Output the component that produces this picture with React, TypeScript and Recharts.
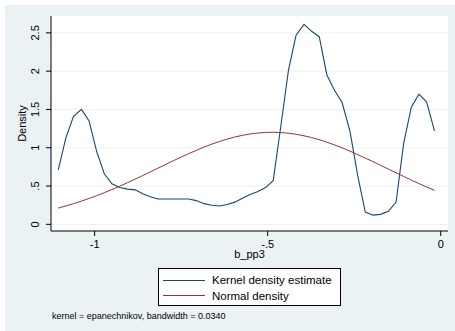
import { LineChart, Line, XAxis, YAxis, CartesianGrid } from "recharts";

const FONT = "'Liberation Sans', Arial, Helvetica, sans-serif";
const NAVY = "#1a476f";
const MAROON = "#90353b";
const BG = "#eaf2f3";

// b_pp3 grid where the density was evaluated
const xVals = [
  -1.105, -1.083, -1.061, -1.038, -1.016, -0.994, -0.972, -0.95, -0.927, -0.905,
  -0.883, -0.861, -0.839, -0.817, -0.794, -0.772, -0.75, -0.728, -0.706, -0.684,
  -0.661, -0.639, -0.617, -0.595, -0.573, -0.551, -0.528, -0.506, -0.484, -0.462,
  -0.44, -0.418, -0.395, -0.373, -0.351, -0.329, -0.307, -0.285, -0.262, -0.24,
  -0.218, -0.196, -0.174, -0.151, -0.129, -0.107, -0.085, -0.063, -0.041, -0.018,
];

const kernelVals = [
  0.71, 1.13, 1.41, 1.5, 1.35, 0.95, 0.66, 0.53, 0.48, 0.46,
  0.45, 0.4, 0.36, 0.33, 0.33, 0.33, 0.33, 0.33, 0.31, 0.27,
  0.25, 0.24, 0.26, 0.29, 0.34, 0.39, 0.43, 0.48, 0.57, 1.28,
  2.01, 2.47, 2.61, 2.52, 2.45, 1.95, 1.75, 1.59, 1.21, 0.64,
  0.16, 0.12, 0.13, 0.17, 0.29, 1.06, 1.53, 1.7, 1.6, 1.22,
];

const normalVals = [
  0.213, 0.24, 0.27, 0.303, 0.338, 0.374, 0.413, 0.455, 0.499, 0.544,
  0.59, 0.637, 0.685, 0.733, 0.783, 0.832, 0.878, 0.924, 0.966, 1.008,
  1.048, 1.082, 1.113, 1.14, 1.162, 1.18, 1.192, 1.2, 1.202, 1.198,
  1.19, 1.176, 1.156, 1.133, 1.105, 1.073, 1.037, 0.999, 0.955, 0.911,
  0.865, 0.819, 0.771, 0.721, 0.673, 0.625, 0.578, 0.532, 0.488, 0.443,
];

const xTicks = [-1, -0.5, 0];
const xTickLabels = ["-1", "-.5", "0"];
const yTicks = [0, 0.5, 1, 1.5, 2, 2.5];
const yTickLabels = ["0", ".5", "1", "1.5", "2", "2.5"];

const data = xVals.map((x, i) => ({
  x,
  kernel: kernelVals[i],
  normal: normalVals[i],
}));

const YTick = (props: any) => {
  const { x, y, payload } = props;
  const label = yTickLabels[yTicks.indexOf(payload.value)];
  return (
    <text
      x={x}
      y={y}
      transform={`rotate(-90, ${x}, ${y})`}
      textAnchor="middle"
      fontSize={11}
      fontFamily={FONT}
      fill="#000"
    >
      {label}
    </text>
  );
};

const XTick = (props: any) => {
  const { x, y, payload } = props;
  const label = xTickLabels[xTicks.indexOf(payload.value)];
  return (
    <text x={x} y={y} dy="0.71em" textAnchor="middle" fontSize={11} fontFamily={FONT} fill="#000">
      {label}
    </text>
  );
};

const XLabel = (props: any) => {
  const vb = props.viewBox;
  return (
    <text
      x={vb.x + vb.width / 2}
      y={vb.y + 26.5}
      textAnchor="middle"
      fontSize={11}
      fontFamily={FONT}
      fill="#000"
    >
      b_pp3
    </text>
  );
};

const YLabel = (props: any) => {
  const vb = props.viewBox;
  const cx = vb.x + 26;
  const cy = vb.y + vb.height / 2;
  return (
    <text
      x={cx}
      y={cy}
      transform={`rotate(-90, ${cx}, ${cy})`}
      textAnchor="middle"
      fontSize={11}
      fontFamily={FONT}
      fill="#000"
    >
      Density
    </text>
  );
};

export default function App() {
  return (
    <div
      style={{
        position: "absolute",
        left: 0,
        top: 0,
        width: 455,
        height: 331,
        background: "#fff",
        fontFamily: FONT,
      }}
    >
      <div style={{ position: "absolute", left: 5, top: 5, width: 450, height: 326, background: BG }} />
      <div style={{ position: "absolute", left: 0, top: 0 }}>
        <LineChart width={455} height={331} data={data} margin={{ top: 16, right: 7, bottom: 70, left: 0 }}>
          <CartesianGrid vertical={false} stroke={BG} fill="#fff" horizontalValues={yTicks} />
          <XAxis
            dataKey="x"
            type="number"
            domain={[-1.126, 0.021]}
            ticks={xTicks}
            allowDataOverflow
            height={30}
            tickSize={5}
            tickMargin={4}
            stroke="#000"
            tick={<XTick />}
            label={<XLabel />}
          />
          <YAxis
            type="number"
            domain={[-0.087, 2.72]}
            ticks={yTicks}
            allowDataOverflow
            width={51}
            tickSize={5}
            tickMargin={7}
            stroke="#000"
            tick={<YTick />}
            label={<YLabel />}
          />
          <Line
            type="linear"
            dataKey="kernel"
            stroke={NAVY}
            strokeWidth={1.1}
            dot={false}
            isAnimationActive={false}
          />
          <Line
            type="linear"
            dataKey="normal"
            stroke={MAROON}
            strokeWidth={1}
            dot={false}
            isAnimationActive={false}
          />
        </LineChart>
      </div>
      <div
        style={{
          position: "absolute",
          left: 158,
          top: 268,
          width: 181,
          height: 36,
          border: "1px solid #000",
          background: "#fff",
          fontSize: 11.5,
          color: "#000",
        }}
      >
        {[
          { name: "Kernel density estimate", color: NAVY, top: 11 },
          { name: "Normal density", color: MAROON, top: 26.5 },
        ].map((item) => (
          <div key={item.name} style={{ position: "absolute", left: 4, top: item.top - 7, height: 14, display: "flex", alignItems: "center" }}>
            <div style={{ width: 42, height: 1, background: item.color }} />
            <span style={{ marginLeft: 7, lineHeight: "14px", whiteSpace: "nowrap" }}>{item.name}</span>
          </div>
        ))}
      </div>
      <div style={{ position: "absolute", left: 52, top: 310, fontSize: 9, lineHeight: "12px", color: "#000", whiteSpace: "nowrap" }}>
        kernel = epanechnikov, bandwidth = 0.0340
      </div>
    </div>
  );
}
